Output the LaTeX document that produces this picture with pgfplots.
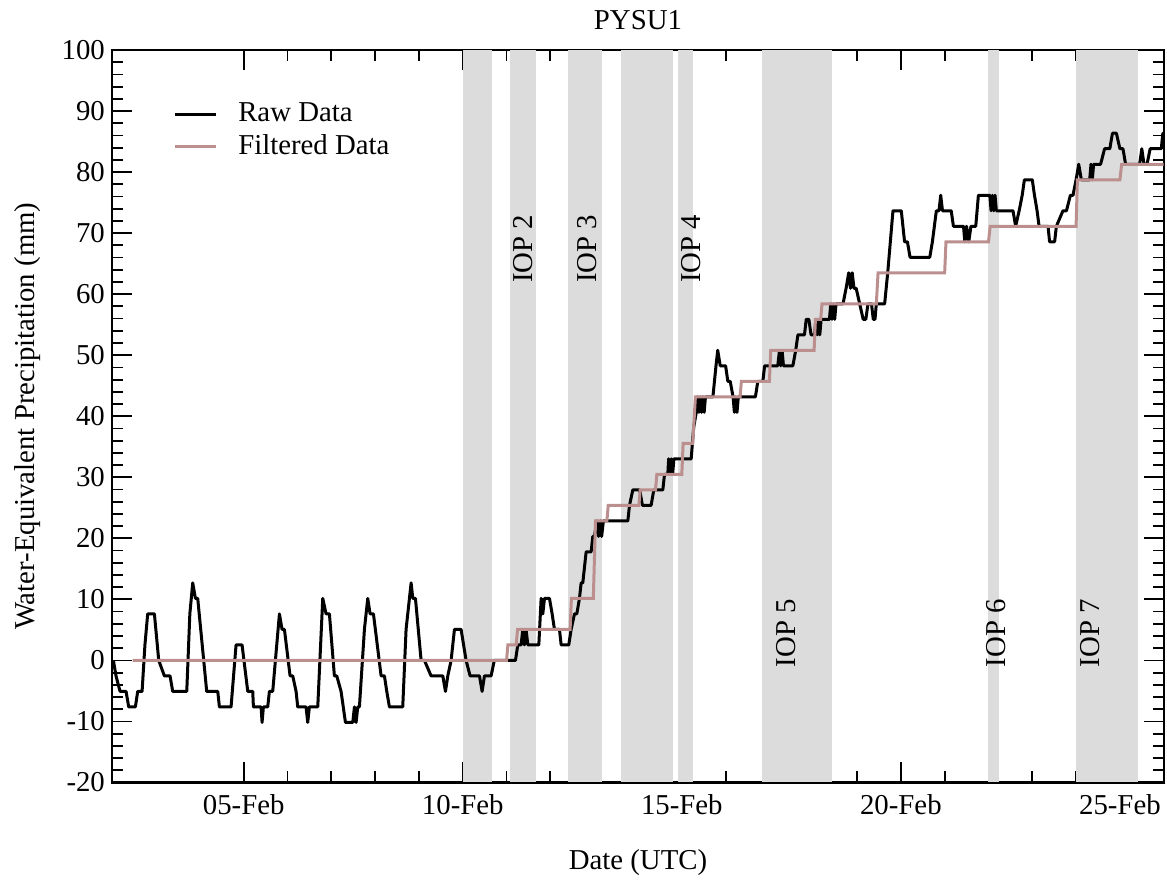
\documentclass[border=0pt]{standalone}
\usepackage{fontspec}
\setmainfont{Liberation Serif}
\usepackage{pgfplots}
\pgfplotsset{compat=1.18}
\definecolor{bandgray}{RGB}{220,220,220}
\definecolor{filt}{RGB}{188,143,143}
\begin{document}
\begin{tikzpicture}[font=\fontsize{14.4pt}{17pt}\selectfont]
\begin{axis}[
  scale only axis, width=525.7pt, height=366.25pt,
  xmin=2, xmax=26, ymin=-20, ymax=100,
  xtick={5,10,15,20,25}, xticklabels={05-Feb,10-Feb,15-Feb,20-Feb,25-Feb},
  minor x tick num=4,
  ytick={-20,-10,...,100}, minor y tick num=4,
  tick align=inside,
  major tick length=10pt, minor tick length=5.5pt,
  axis line style={line width=1.2pt},
  tick style={black, line width=0.9pt},
  /pgf/number format/assume math mode=true,
  yticklabel style={inner sep=0pt, xshift=-3.5pt},
  xticklabel style={inner sep=0pt, yshift=-6pt},
  title={PYSU1},
  title style={at={(axis description cs:0.5,1)}, anchor=base, yshift=4.35pt, inner sep=0pt},
  xlabel={Date (UTC)},
  xlabel style={at={(axis description cs:0.5,0)}, anchor=base, yshift=-43.5pt, inner sep=0pt},
  ylabel={Water-Equivalent Precipitation (mm)},
  ylabel style={at={(axis description cs:-0.0742,0.5)}, anchor=base, inner sep=0pt},
  legend cell align=left,
  legend style={at={(axis description cs:0.0580,0.928)}, anchor=north west, draw=none, fill=none,
    inner sep=0pt, row sep=4.8pt, column sep=10.5pt, nodes={inner sep=0pt}},
  legend image code/.code={\draw[#1] (0pt,0pt) -- (20.3pt,0pt);},
]
% IOP bands
\addplot[draw=none, fill=bandgray, forget plot] coordinates {(10.0,-20) (10.0,100) (10.67,100) (10.67,-20)} -- cycle;
\addplot[draw=none, fill=bandgray, forget plot] coordinates {(11.08,-20) (11.08,100) (11.68,100) (11.68,-20)} -- cycle;
\addplot[draw=none, fill=bandgray, forget plot] coordinates {(12.41,-20) (12.41,100) (13.17,100) (13.17,-20)} -- cycle;
\addplot[draw=none, fill=bandgray, forget plot] coordinates {(13.62,-20) (13.62,100) (14.79,100) (14.79,-20)} -- cycle;
\addplot[draw=none, fill=bandgray, forget plot] coordinates {(14.92,-20) (14.92,100) (15.25,100) (15.25,-20)} -- cycle;
\addplot[draw=none, fill=bandgray, forget plot] coordinates {(16.83,-20) (16.83,100) (18.42,100) (18.42,-20)} -- cycle;
\addplot[draw=none, fill=bandgray, forget plot] coordinates {(21.99,-20) (21.99,100) (22.25,100) (22.25,-20)} -- cycle;
\addplot[draw=none, fill=bandgray, forget plot] coordinates {(23.99,-20) (23.99,100) (25.42,100) (25.42,-20)} -- cycle;

% Raw data
\addplot[black, line width=1.5pt, line join=round] coordinates {
(2.025,0) (2.085,-2.54) (2.177,-5.08) (2.314,-5.08) (2.375,-7.62) (2.527,-7.62) (2.58,-5.08) (2.68,-5.08) (2.745,2.54) (2.808,7.62) (2.961,7.62) (3.06,0) (3.189,-2.54) (3.318,-2.54) (3.379,-5.08) (3.70,-5.08) (3.77,7.62) (3.836,12.7) (3.897,10.16) (3.95,10.16) (4.155,-5.08) (4.407,-5.08) (4.445,-7.62) (4.711,-7.62) (4.825,2.54) (4.962,2.54) (5.092,-5.08) (5.206,-5.08) (5.221,-7.62) (5.396,-7.62) (5.419,-10.16) (5.449,-7.62) (5.548,-7.62) (5.586,-5.08) (5.662,-5.08) (5.815,7.62) (5.875,5.08) (5.929,5.08) (6.058,-2.54) (6.119,-2.54) (6.195,-5.08) (6.233,-7.62) (6.423,-7.62) (6.461,-10.16) (6.499,-7.62) (6.69,-7.62) (6.804,10.16) (6.88,7.62) (6.956,7.62) (7.07,-2.54) (7.124,-2.54) (7.222,-5.08) (7.322,-10.16) (7.489,-10.16) (7.527,-7.62) (7.565,-10.16) (7.603,-7.62) (7.641,-7.62) (7.755,5.08) (7.831,10.16) (7.885,7.62) (7.961,7.62) (8.136,-2.54) (8.212,-2.54) (8.265,-5.08) (8.326,-7.62) (8.63,-7.62) (8.706,5.08) (8.821,12.7) (8.859,10.16) (8.92,10.16) (9.049,0) (9.125,0) (9.277,-2.54) (9.544,-2.54) (9.605,-5.08) (9.658,-2.54) (9.734,0) (9.81,5.08) (9.962,5.08) (10.076,0) (10.168,-2.54) (10.381,-2.54) (10.442,-5.08) (10.495,-2.54) (10.647,-2.54) (10.72,0)
(11.203,0) (11.256,2.54) (11.332,2.54) (11.37,5.08) (11.408,2.54) (11.446,5.08) (11.485,2.54) (11.736,2.54) (11.789,10.16) (11.827,7.62) (11.865,10.16) (11.979,10.16) (12.04,7.62) (12.093,5.08) (12.207,5.08) (12.246,2.54) (12.42,2.54) (12.474,5.08) (12.55,7.62) (12.603,7.62) (12.664,10.16) (12.702,12.7) (12.74,12.7) (12.778,15.24) (12.816,17.78) (12.93,17.78) (12.968,20.32) (13.006,20.32) (13.06,22.86) (13.10,20.32) (13.14,22.86) (13.17,20.32) (13.21,22.86) (13.768,22.86) (13.806,25.4) (13.882,27.94) (14.04,27.94) (14.10,25.4) (14.30,25.4) (14.36,27.94) (14.567,27.94) (14.605,30.48) (14.68,30.48) (14.70,33.02) (14.73,30.48) (14.76,33.02) (14.79,30.48) (14.82,33.02) (15.214,33.02) (15.27,38.1) (15.33,40.64) (15.36,43.18) (15.39,40.64) (15.42,43.18) (15.45,40.64) (15.48,43.18) (15.51,40.64) (15.54,43.18) (15.71,43.18) (15.78,48.26) (15.82,50.8) (15.877,48.26) (16.0,48.26) (16.05,45.72) (16.105,45.72) (16.17,43.18) (16.2,40.64) (16.23,43.18) (16.26,40.64) (16.29,43.18) (16.68,43.18) (16.735,45.72) (16.85,45.72) (16.89,48.26) (17.19,48.26) (17.23,50.8) (17.26,48.26) (17.29,50.8) (17.32,48.26) (17.535,48.26) (17.6,50.8) (17.65,53.34) (17.80,53.34) (17.84,55.88) (17.9,55.88) (17.95,53.34) (18.03,53.34) (18.06,55.88) (18.09,53.34) (18.12,55.88) (18.15,53.34) (18.18,55.88) (18.37,55.88) (18.40,58.42) (18.43,55.88) (18.46,58.42) (18.49,55.88) (18.52,58.42) (18.68,58.42) (18.75,60.96) (18.81,63.5) (18.85,60.96) (18.89,63.5) (18.93,60.96) (18.98,60.96) (19.06,58.42) (19.14,55.88) (19.20,55.88) (19.25,58.42) (19.33,58.42) (19.37,55.88) (19.41,55.88) (19.44,58.42) (19.63,58.42) (19.70,63.5) (19.76,68.58) (19.82,73.66) (20.01,73.66) (20.085,68.58) (20.15,68.58) (20.21,66.04) (20.66,66.04) (20.72,68.58) (20.81,73.66) (20.87,73.66) (20.91,76.2) (20.95,73.66) (21.15,73.66) (21.2,71.12) (21.43,71.12) (21.46,68.58) (21.5,71.12) (21.55,68.58) (21.6,71.12) (21.71,71.12) (21.77,76.2) (22.03,76.2) (22.06,73.66) (22.09,76.2) (22.12,73.66) (22.15,76.2) (22.18,73.66) (22.56,73.66) (22.62,71.12) (22.70,73.66) (22.77,76.2) (22.82,78.74) (23.0,78.74) (23.05,76.2) (23.11,73.66) (23.155,71.12) (23.36,71.12) (23.395,68.58) (23.51,68.58) (23.55,71.12) (23.70,73.66) (23.78,73.66) (23.87,76.2) (23.93,76.2) (24.0,78.74) (24.06,81.28) (24.12,78.74) (24.31,78.74) (24.34,81.28) (24.37,78.74) (24.40,81.28) (24.56,81.28) (24.65,83.82) (24.77,83.82) (24.83,86.36) (24.92,86.36) (25.0,83.82) (25.07,83.82) (25.13,81.28) (25.45,81.28) (25.5,83.82) (25.55,81.28) (25.62,81.28) (25.69,83.82) (25.945,83.82) (25.98,86.36) (26.0,86.36)
};
\addlegendentry{Raw Data}

% Filtered data
\addplot[filt, line width=1.5pt] coordinates {
(2.466,0) (11.0,0) (11.03,2.54) (11.22,2.54) (11.25,5.08) (12.45,5.08) (12.48,10.16) (12.98,10.16) (13.03,22.86) (13.29,22.86) (13.32,25.4) (14.02,25.4) (14.05,27.94) (14.40,27.94) (14.43,30.48) (15.0,30.48) (15.03,35.56) (15.25,35.56) (15.31,43.18) (16.33,43.18) (16.36,45.72) (17.0,45.72) (17.03,50.8) (18.02,50.8) (18.05,55.88) (18.17,55.88) (18.2,58.42) (19.44,58.42) (19.48,63.5) (21.0,63.5) (21.03,68.58) (22.0,68.58) (22.04,71.12) (24.0,71.12) (24.03,78.74) (25.0,78.74) (25.04,81.28) (26.0,81.28)
};
\addlegendentry{Filtered Data}

% IOP labels
\node[rotate=90, anchor=west, inner sep=0pt] at (axis cs:11.379,61.8) {IOP 2};
\node[rotate=90, anchor=west, inner sep=0pt] at (axis cs:12.836,61.8) {IOP 3};
\node[rotate=90, anchor=west, inner sep=0pt] at (axis cs:15.21,61.8) {IOP 4};
\node[rotate=90, anchor=west, inner sep=0pt] at (axis cs:17.39,-1.2) {IOP 5};
\node[rotate=90, anchor=west, inner sep=0pt] at (axis cs:22.185,-1.2) {IOP 6};
\node[rotate=90, anchor=west, inner sep=0pt] at (axis cs:24.31,-1.2) {IOP 7};
\end{axis}
\pgfresetboundingbox
\path ([shift={(-56.15pt,-49.25pt)}]current axis.south west) rectangle ([shift={(1.65pt,25pt)}]current axis.north east);
\end{tikzpicture}
\end{document}
